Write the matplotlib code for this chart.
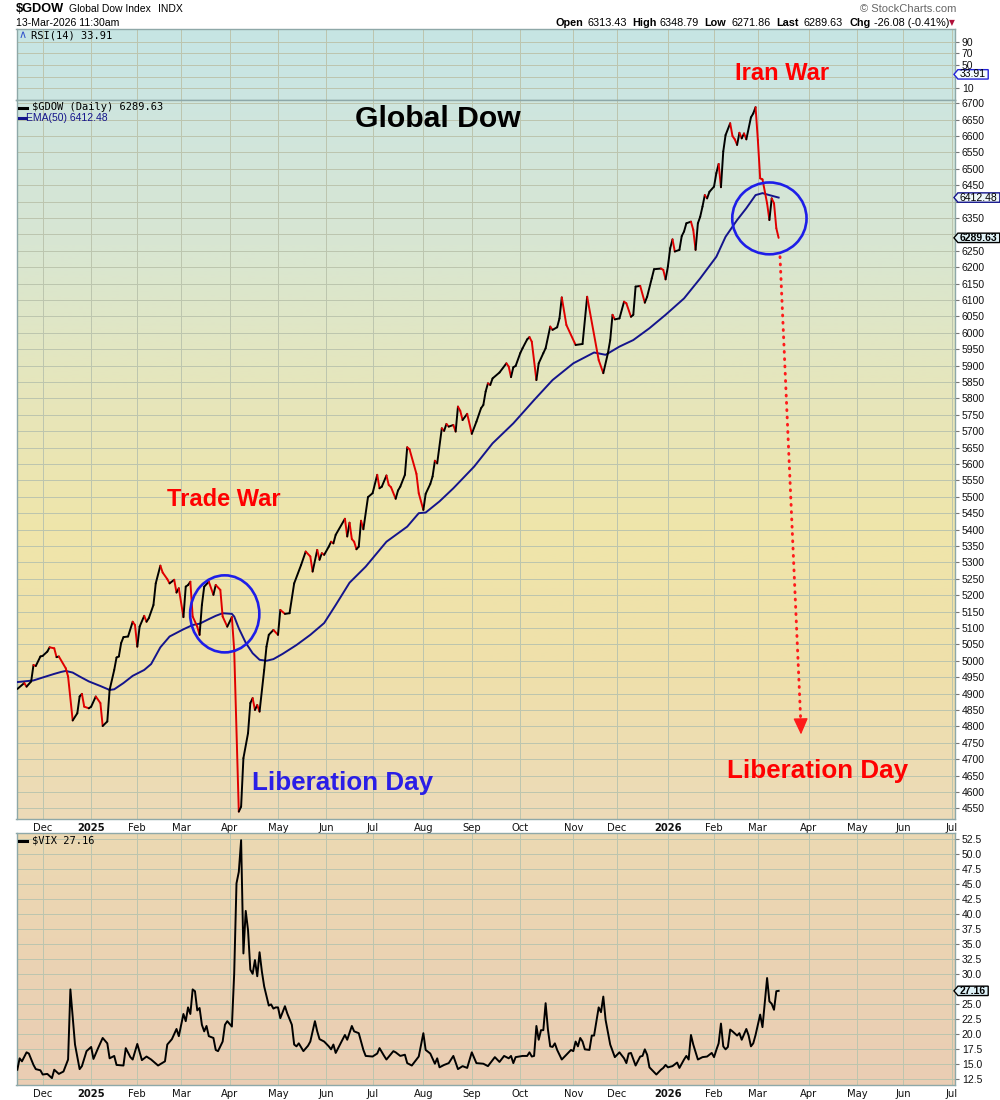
import numpy as np
import matplotlib
matplotlib.use("Agg")
import matplotlib.pyplot as plt
import matplotlib.transforms as mtrans
from matplotlib.collections import LineCollection
from matplotlib.colors import LinearSegmentedColormap
from matplotlib.patches import Ellipse
from matplotlib.path import Path
from matplotlib.lines import Line2D

# NYSE closed days in the window (x axis is in trading sessions)
holidays = ["2024-11-28", "2024-12-25", "2025-01-01", "2025-01-09", "2025-01-20",
            "2025-02-17", "2025-04-18", "2025-05-26", "2025-06-19", "2025-07-04",
            "2025-09-01", "2025-11-27", "2025-12-25", "2026-01-01", "2026-01-19",
            "2026-02-16", "2026-04-03", "2026-05-25", "2026-06-19", "2026-07-03"]

# $GDOW daily close
gdow = [
    ("2024-11-14", 4914), ("2024-11-19", 4932), ("2024-11-20", 4921), ("2024-11-22", 4937),
    ("2024-11-25", 4987), ("2024-11-26", 4984), ("2024-11-29", 5013), ("2024-12-02", 5015),
    ("2024-12-04", 5028), ("2024-12-05", 5041), ("2024-12-09", 5038), ("2024-12-10", 5011),
    ("2024-12-11", 5013), ("2024-12-16", 4977), ("2024-12-17", 4952), ("2024-12-19", 4818),
    ("2024-12-23", 4840), ("2024-12-24", 4891), ("2024-12-26", 4899), ("2024-12-27", 4860),
    ("2024-12-31", 4855), ("2025-01-02", 4860), ("2025-01-06", 4891), ("2025-01-08", 4871),
    ("2025-01-10", 4801), ("2025-01-14", 4815), ("2025-01-15", 4911), ("2025-01-17", 4972),
    ("2025-01-21", 5010), ("2025-01-22", 5013), ("2025-01-23", 5054), ("2025-01-24", 5072),
    ("2025-01-28", 5074), ("2025-01-30", 5119), ("2025-01-31", 5109), ("2025-02-03", 5043),
    ("2025-02-04", 5104), ("2025-02-06", 5137), ("2025-02-07", 5119), ("2025-02-10", 5130),
    ("2025-02-12", 5170), ("2025-02-13", 5236), ("2025-02-18", 5290), ("2025-02-19", 5269),
    ("2025-02-21", 5249), ("2025-02-24", 5236), ("2025-02-26", 5247), ("2025-02-27", 5208),
    ("2025-02-28", 5221), ("2025-03-04", 5133), ("2025-03-05", 5226), ("2025-03-06", 5231),
    ("2025-03-07", 5241), ("2025-03-10", 5135), ("2025-03-12", 5104), ("2025-03-13", 5079),
    ("2025-03-14", 5170), ("2025-03-17", 5226), ("2025-03-19", 5241), ("2025-03-21", 5201),
    ("2025-03-24", 5231), ("2025-03-26", 5216), ("2025-03-27", 5135), ("2025-03-31", 5104),
    ("2025-04-02", 5133), ("2025-04-03", 5033), ("2025-04-07", 4540), ("2025-04-08", 4555),
    ("2025-04-09", 4703), ("2025-04-11", 4779), ("2025-04-14", 4871), ("2025-04-15", 4886),
    ("2025-04-16", 4850), ("2025-04-17", 4865), ("2025-04-21", 4845), ("2025-04-23", 4972),
    ("2025-04-24", 5043), ("2025-04-25", 5079), ("2025-04-29", 5094), ("2025-05-01", 5079),
    ("2025-05-02", 5155), ("2025-05-06", 5143), ("2025-05-08", 5145), ("2025-05-12", 5236),
    ("2025-05-15", 5292), ("2025-05-19", 5333), ("2025-05-21", 5318), ("2025-05-22", 5272),
    ("2025-05-27", 5338), ("2025-05-28", 5308), ("2025-05-29", 5328), ("2025-05-30", 5323),
    ("2025-06-03", 5348), ("2025-06-04", 5363), ("2025-06-05", 5358), ("2025-06-06", 5384),
    ("2025-06-12", 5433), ("2025-06-13", 5379), ("2025-06-16", 5421), ("2025-06-17", 5371),
    ("2025-06-18", 5363), ("2025-06-20", 5340), ("2025-06-23", 5348), ("2025-06-24", 5427),
    ("2025-06-25", 5401), ("2025-06-27", 5499), ("2025-07-01", 5511), ("2025-07-03", 5567),
    ("2025-07-07", 5526), ("2025-07-08", 5531), ("2025-07-10", 5565), ("2025-07-11", 5536),
    ("2025-07-14", 5529), ("2025-07-16", 5494), ("2025-07-17", 5519), ("2025-07-18", 5531),
    ("2025-07-22", 5567), ("2025-07-23", 5651), ("2025-07-24", 5645), ("2025-07-29", 5570),
    ("2025-07-30", 5511), ("2025-08-01", 5460), ("2025-08-04", 5509), ("2025-08-06", 5539),
    ("2025-08-07", 5562), ("2025-08-08", 5610), ("2025-08-11", 5602), ("2025-08-13", 5709),
    ("2025-08-14", 5701), ("2025-08-15", 5722), ("2025-08-18", 5714), ("2025-08-20", 5719),
    ("2025-08-21", 5699), ("2025-08-22", 5775), ("2025-08-25", 5762), ("2025-08-26", 5734),
    ("2025-08-28", 5753), ("2025-09-02", 5692), ("2025-09-04", 5729), ("2025-09-08", 5770),
    ("2025-09-09", 5780), ("2025-09-10", 5821), ("2025-09-11", 5846), ("2025-09-12", 5841),
    ("2025-09-15", 5861), ("2025-09-18", 5879), ("2025-09-23", 5907), ("2025-09-24", 5897),
    ("2025-09-25", 5865), ("2025-09-26", 5895), ("2025-09-29", 5899), ("2025-10-01", 5938),
    ("2025-10-02", 5953), ("2025-10-06", 5980), ("2025-10-07", 5987), ("2025-10-08", 5973),
    ("2025-10-10", 5856), ("2025-10-13", 5907), ("2025-10-15", 5938), ("2025-10-16", 5953),
    ("2025-10-20", 6019), ("2025-10-21", 6009), ("2025-10-23", 6017), ("2025-10-24", 6044),
    ("2025-10-27", 6108), ("2025-10-29", 6024), ("2025-11-04", 5963), ("2025-11-07", 5966),
    ("2025-11-11", 6110), ("2025-11-18", 5917), ("2025-11-20", 5877), ("2025-11-24", 5938),
    ("2025-11-25", 5978), ("2025-11-26", 6055), ("2025-11-28", 6041), ("2025-12-02", 6044),
    ("2025-12-04", 6095), ("2025-12-05", 6090), ("2025-12-09", 6049), ("2025-12-10", 6055),
    ("2025-12-11", 6141), ("2025-12-15", 6143), ("2025-12-17", 6092), ("2025-12-18", 6110),
    ("2025-12-22", 6166), ("2025-12-23", 6194), ("2025-12-29", 6196), ("2025-12-30", 6192),
    ("2025-12-31", 6163), ("2026-01-02", 6202), ("2026-01-05", 6258), ("2026-01-06", 6285),
    ("2026-01-07", 6248), ("2026-01-09", 6253), ("2026-01-12", 6295), ("2026-01-13", 6309),
    ("2026-01-14", 6334), ("2026-01-16", 6339), ("2026-01-20", 6314), ("2026-01-21", 6253),
    ("2026-01-22", 6334), ("2026-01-23", 6354), ("2026-01-26", 6385), ("2026-01-27", 6420),
    ("2026-01-28", 6410), ("2026-01-29", 6430), ("2026-02-02", 6446), ("2026-02-03", 6487),
    ("2026-02-04", 6515), ("2026-02-05", 6444), ("2026-02-06", 6553), ("2026-02-09", 6603),
    ("2026-02-11", 6639), ("2026-02-12", 6600), ("2026-02-13", 6590), ("2026-02-17", 6573),
    ("2026-02-18", 6610), ("2026-02-19", 6593), ("2026-02-20", 6608), ("2026-02-23", 6590),
    ("2026-02-25", 6657), ("2026-02-26", 6669), ("2026-02-27", 6688), ("2026-03-02", 6588),
    ("2026-03-03", 6471), ("2026-03-04", 6468), ("2026-03-06", 6395), ("2026-03-09", 6344),
    ("2026-03-10", 6410), ("2026-03-11", 6395), ("2026-03-12", 6319), ("2026-03-13", 6289.63),
]

# EMA(50) of $GDOW
ema = [
    ("2024-11-14", 4935), ("2024-11-25", 4940), ("2024-12-02", 4949), ("2024-12-09", 4960),
    ("2024-12-12", 4966), ("2024-12-16", 4969), ("2024-12-19", 4964), ("2024-12-24", 4952),
    ("2024-12-31", 4937), ("2025-01-08", 4923), ("2025-01-15", 4911), ("2025-01-17", 4913),
    ("2025-01-24", 4932), ("2025-01-30", 4954), ("2025-02-06", 4972), ("2025-02-11", 4990),
    ("2025-02-18", 5041), ("2025-02-24", 5074), ("2025-03-04", 5096), ("2025-03-10", 5109),
    ("2025-03-13", 5113), ("2025-03-19", 5127), ("2025-03-24", 5137), ("2025-03-27", 5145),
    ("2025-04-02", 5143), ("2025-04-03", 5135), ("2025-04-07", 5099), ("2025-04-10", 5055),
    ("2025-04-15", 5023), ("2025-04-21", 5003), ("2025-04-24", 5000), ("2025-04-29", 5005),
    ("2025-05-05", 5021), ("2025-05-13", 5048), ("2025-05-21", 5079), ("2025-05-30", 5115),
    ("2025-06-06", 5170), ("2025-06-16", 5238), ("2025-06-26", 5287), ("2025-07-10", 5363),
    ("2025-07-23", 5409), ("2025-07-30", 5450), ("2025-08-04", 5452), ("2025-08-12", 5486),
    ("2025-08-20", 5526), ("2025-09-03", 5592), ("2025-09-15", 5663), ("2025-09-26", 5724),
    ("2025-10-09", 5795), ("2025-10-21", 5856), ("2025-11-03", 5907), ("2025-11-14", 5940),
    ("2025-11-21", 5933), ("2025-12-02", 5958), ("2025-12-10", 5978), ("2025-12-19", 6014),
    ("2025-12-31", 6055), ("2026-01-13", 6105), ("2026-01-23", 6166), ("2026-02-03", 6232),
    ("2026-02-09", 6293), ("2026-02-17", 6344), ("2026-02-23", 6380), ("2026-02-27", 6420),
    ("2026-03-04", 6426), ("2026-03-09", 6420), ("2026-03-13", 6412.48),
]

# $VIX daily close
vix = [
    ("2024-11-14", 14.0), ("2024-11-15", 15.9), ("2024-11-18", 15.4), ("2024-11-20", 16.9),
    ("2024-11-21", 16.7), ("2024-11-25", 14.8), ("2024-11-26", 14.1), ("2024-11-29", 13.9),
    ("2024-12-02", 13.2), ("2024-12-04", 13.3), ("2024-12-06", 12.6), ("2024-12-09", 14.0),
    ("2024-12-11", 13.3), ("2024-12-13", 13.7), ("2024-12-17", 15.7), ("2024-12-18", 27.4),
    ("2024-12-20", 18.2), ("2024-12-24", 14.1), ("2024-12-26", 14.6), ("2024-12-30", 17.1),
    ("2025-01-02", 17.8), ("2025-01-03", 15.8), ("2025-01-07", 17.6), ("2025-01-10", 19.3),
    ("2025-01-14", 18.4), ("2025-01-15", 15.9), ("2025-01-17", 16.3), ("2025-01-21", 14.8),
    ("2025-01-24", 14.7), ("2025-01-27", 17.6), ("2025-01-29", 16.1), ("2025-01-30", 15.7),
    ("2025-02-03", 18.3), ("2025-02-05", 15.6), ("2025-02-07", 16.2), ("2025-02-11", 15.7),
    ("2025-02-14", 14.7), ("2025-02-20", 15.4), ("2025-02-21", 18.2), ("2025-02-25", 19.1),
    ("2025-02-27", 20.8), ("2025-02-28", 19.6), ("2025-03-04", 23.3), ("2025-03-05", 22.1),
    ("2025-03-06", 24.4), ("2025-03-07", 23.3), ("2025-03-10", 27.4), ("2025-03-11", 27.1),
    ("2025-03-12", 23.9), ("2025-03-13", 24.3), ("2025-03-14", 21.5), ("2025-03-17", 20.4),
    ("2025-03-18", 21.3), ("2025-03-19", 19.6), ("2025-03-21", 19.3), ("2025-03-24", 17.3),
    ("2025-03-25", 17.1), ("2025-03-27", 18.7), ("2025-03-28", 21.5), ("2025-03-31", 22.1),
    ("2025-04-02", 21.2), ("2025-04-03", 30.0), ("2025-04-04", 45.1), ("2025-04-07", 47.0),
    ("2025-04-08", 52.3), ("2025-04-09", 33.4), ("2025-04-10", 40.5), ("2025-04-11", 37.3),
    ("2025-04-14", 30.7), ("2025-04-15", 30.0), ("2025-04-16", 32.3), ("2025-04-17", 29.6),
    ("2025-04-21", 33.6), ("2025-04-22", 30.4), ("2025-04-23", 27.9), ("2025-04-25", 24.7),
    ("2025-04-28", 24.9), ("2025-04-29", 24.2), ("2025-04-30", 24.4), ("2025-05-01", 24.4),
    ("2025-05-02", 22.6), ("2025-05-06", 24.6), ("2025-05-07", 23.4), ("2025-05-09", 21.5),
    ("2025-05-12", 18.2), ("2025-05-13", 17.9), ("2025-05-14", 18.4), ("2025-05-16", 17.1),
    ("2025-05-20", 18.0), ("2025-05-21", 18.7), ("2025-05-22", 20.4), ("2025-05-23", 22.1),
    ("2025-05-27", 20.4), ("2025-05-28", 19.1), ("2025-05-30", 18.7), ("2025-06-03", 17.9),
    ("2025-06-04", 17.4), ("2025-06-05", 18.2), ("2025-06-06", 16.8), ("2025-06-12", 19.8),
    ("2025-06-13", 19.0), ("2025-06-17", 21.3), ("2025-06-18", 20.4), ("2025-06-23", 20.1),
    ("2025-06-25", 17.3), ("2025-06-26", 16.3), ("2025-07-01", 16.2), ("2025-07-03", 16.7),
    ("2025-07-07", 17.6), ("2025-07-09", 16.3), ("2025-07-10", 15.7), ("2025-07-15", 17.1),
    ("2025-07-16", 16.9), ("2025-07-18", 16.3), ("2025-07-22", 16.5), ("2025-07-23", 15.1),
    ("2025-07-25", 14.7), ("2025-07-29", 15.7), ("2025-07-30", 16.2), ("2025-08-01", 20.1),
    ("2025-08-04", 17.3), ("2025-08-06", 16.7), ("2025-08-08", 15.0), ("2025-08-11", 15.9),
    ("2025-08-12", 14.4), ("2025-08-14", 14.8), ("2025-08-18", 15.1), ("2025-08-20", 16.3),
    ("2025-08-22", 14.1), ("2025-08-26", 14.6), ("2025-08-28", 14.3), ("2025-09-02", 16.9),
    ("2025-09-04", 15.1), ("2025-09-09", 15.0), ("2025-09-11", 14.6), ("2025-09-12", 15.1),
    ("2025-09-16", 16.1), ("2025-09-18", 15.3), ("2025-09-22", 16.3), ("2025-09-24", 15.9),
    ("2025-09-25", 16.3), ("2025-09-26", 15.1), ("2025-09-29", 16.1), ("2025-10-02", 16.3),
    ("2025-10-06", 16.3), ("2025-10-07", 16.9), ("2025-10-08", 16.2), ("2025-10-09", 16.3),
    ("2025-10-10", 21.3), ("2025-10-13", 19.0), ("2025-10-14", 20.6), ("2025-10-15", 20.6),
    ("2025-10-16", 25.1), ("2025-10-17", 20.7), ("2025-10-20", 17.9), ("2025-10-21", 17.8),
    ("2025-10-22", 18.4), ("2025-10-23", 17.3), ("2025-10-27", 15.7), ("2025-10-29", 16.5),
    ("2025-10-31", 17.3), ("2025-11-03", 17.1), ("2025-11-04", 18.7), ("2025-11-05", 17.9),
    ("2025-11-06", 19.3), ("2025-11-07", 18.7), ("2025-11-10", 17.4), ("2025-11-12", 17.3),
    ("2025-11-13", 19.7), ("2025-11-14", 19.7), ("2025-11-18", 24.4), ("2025-11-19", 23.6),
    ("2025-11-20", 26.2), ("2025-11-21", 22.3), ("2025-11-25", 18.2), ("2025-11-28", 16.1),
    ("2025-12-02", 16.9), ("2025-12-04", 15.9), ("2025-12-05", 15.1), ("2025-12-08", 16.7),
    ("2025-12-09", 16.8), ("2025-12-11", 14.7), ("2025-12-15", 16.2), ("2025-12-16", 16.3),
    ("2025-12-17", 17.4), ("2025-12-18", 16.5), ("2025-12-19", 14.4), ("2025-12-23", 13.6),
    ("2025-12-24", 13.2), ("2025-12-29", 14.0), ("2025-12-30", 14.3), ("2025-12-31", 14.8),
    ("2026-01-02", 14.4), ("2026-01-06", 14.6), ("2026-01-08", 15.2), ("2026-01-09", 14.3),
    ("2026-01-13", 15.7), ("2026-01-14", 16.3), ("2026-01-15", 15.7), ("2026-01-16", 19.8),
    ("2026-01-20", 18.2), ("2026-01-22", 15.7), ("2026-01-26", 16.1), ("2026-01-28", 16.2),
    ("2026-01-30", 16.8), ("2026-02-02", 16.1), ("2026-02-03", 17.3), ("2026-02-04", 18.4),
    ("2026-02-05", 21.7), ("2026-02-06", 17.9), ("2026-02-09", 17.4), ("2026-02-10", 17.8),
    ("2026-02-11", 20.7), ("2026-02-12", 20.4), ("2026-02-17", 19.7), ("2026-02-18", 20.1),
    ("2026-02-19", 19.0), ("2026-02-23", 20.8), ("2026-02-24", 19.7), ("2026-02-25", 17.9),
    ("2026-02-26", 18.4), ("2026-02-27", 19.8), ("2026-03-03", 23.2), ("2026-03-04", 21.1),
    ("2026-03-06", 29.3), ("2026-03-09", 25.4), ("2026-03-10", 25.0), ("2026-03-11", 24.0),
    ("2026-03-12", 27.1), ("2026-03-13", 27.16),
]

month_labels = ["Dec", "2025", "Feb", "Mar", "Apr", "May", "Jun", "Jul", "Aug", "Sep",
                "Oct", "Nov", "Dec", "2026", "Feb", "Mar", "Apr", "May", "Jun", "Jul"]
price_ticks = list(range(4550, 6701, 50))
vix_ticks = [12.5, 15.0, 17.5, 20.0, 22.5, 25.0, 27.5, 30.0, 32.5, 35.0, 37.5, 40.0,
             42.5, 45.0, 47.5, 50.0, 52.5]
rsi_ticks = [10, 30, 50, 70, 90]
# tick labels hidden under the last-value tags
hidden_price = [6300, 6400]
hidden_vix = [27.5]
hidden_rsi = [30]
quote = [("Open", "6313.43"), ("High", "6348.79"), ("Low", "6271.86"),
         ("Last", "6289.63"), ("Chg", "-26.08 (-0.41%)")]

BASE = np.datetime64("2024-12-02")


def session(dates):
    d = np.array(dates, dtype="datetime64[D]")
    return np.busday_count(BASE, d, holidays=holidays)


months = np.arange("2024-12", "2026-08", dtype="datetime64[M]").astype("datetime64[D]")
tick_x = session(np.busday_offset(months, 0, roll="forward", holidays=holidays))
XL = (-11.36, 395.67)

W, H = 1000.0, 1100.0
L, R = 16.5, 955.5
fig = plt.figure(figsize=(10, 11), dpi=100)


def fx(x, y):
    return x / W, 1 - y / H


def panel(top, bottom):
    return fig.add_axes([L / W, 1 - bottom / H, (R - L) / W, (bottom - top) / H])


def shade(a, colors):
    cmap = LinearSegmentedColormap.from_list("bg", colors)
    a.imshow(np.linspace(0, 1, 256)[:, None], cmap=cmap, aspect="auto",
             extent=(0, 1, 0, 1), origin="upper", transform=a.transAxes,
             zorder=0, interpolation="bilinear")


def tag_shape(x0, y0, width, height, mutation_size):
    left = x0 - 0.2 * mutation_size
    right = x0 + width + 0.2 * mutation_size
    bottom = y0 + 0.03 * height
    top = y0 + 0.97 * height
    tip = 0.42 * (top - bottom)
    ym = 0.5 * (top + bottom)
    return Path([(left, bottom), (right, bottom), (right, top), (left, top),
                 (left - tip, ym), (left, bottom)], closed=True)


def tag(a, value, text, edge, face, bold=False):
    tr = mtrans.blended_transform_factory(a.transAxes, a.transData)
    a.text(1.0 + 4.5 / (R - L), value, text, transform=tr, ha="left", va="center",
           fontsize=7.5, family="Liberation Sans", fontweight="bold" if bold else "normal",
           clip_on=False, zorder=10,
           bbox=dict(boxstyle=tag_shape, facecolor=face, edgecolor=edge, linewidth=1.0))


def fmt_labels(ticks, hidden, f):
    return ["" if t in hidden else f(t) for t in ticks]


ax_rsi = panel(28.5, 100)
ax = panel(100, 818.5)
ax_vix = panel(833.3, 1085)

shade(ax_rsi, ["#c6e5e4", "#cce6e1"])
shade(ax, ["#cee5df", "#d8e6d2", "#e6e6bc", "#efe5aa", "#efe0ab", "#ecdab8"])
shade(ax_vix, ["#ecd9b2", "#eacdb4"])

for a in (ax_rsi, ax, ax_vix):
    a.set_xlim(XL)
    a.set_xticks(tick_x)
    a.grid(True, color="#bcc5ae", linewidth=0.7)
    a.set_axisbelow(True)
    for s in a.spines.values():
        s.set_color("#8ea8a8")
        s.set_linewidth(1.0)
    a.tick_params(axis="y", left=False, right=True, labelleft=False, labelright=True,
                  length=3, width=0.8, color="#777777", labelcolor="#111111",
                  labelsize=7.5, pad=1.5, labelfontfamily="Liberation Sans")

# RSI panel (its line is not drawn in the reference)
ax_rsi.set_ylim(-10.1, 112.6)
ax_rsi.set_yticks(rsi_ticks)
ax_rsi.set_yticklabels(fmt_labels(rsi_ticks, hidden_rsi, str))
ax_rsi.tick_params(axis="x", length=0, labelbottom=False)
tag(ax_rsi, 33.91, "33.91", "#2323d8", "#f4fbfd")

# main price panel
ax.set_ylim(4519, 6710)
ax.set_yticks(price_ticks)
ax.set_yticklabels(fmt_labels(price_ticks, hidden_price, str))
gx = session([d for d, _ in gdow])
gy = np.array([v for _, v in gdow], dtype=float)
pts = np.column_stack([gx, gy])
segs = np.stack([pts[:-1], pts[1:]], axis=1)
cols = np.where(np.diff(gy) < 0, "#e00000", "#000000")
ax.add_collection(LineCollection(segs, colors=cols, linewidths=1.4, capstyle="round",
                                 joinstyle="round", zorder=4))
ex = session([d for d, _ in ema])
ey = [v for _, v in ema]
ax.plot(ex, ey, color="#14148c", lw=1.4, zorder=3, solid_joinstyle="round")
tag(ax, 6412.48, "6412.48", "#14148c", "#eef7f8")
tag(ax, 6289.63, "6289.63", "#000000", "#e2f4f8", bold=True)

# annotations
ax.add_patch(Ellipse((session("2025-03-27") + 0.9, 5143), 30, 235, fill=False,
                     edgecolor="#1e1ee8", lw=1.9, zorder=6))
ax.add_patch(Ellipse((session("2026-03-09"), 6349), 32.2, 219, fill=False,
                     edgecolor="#1e1ee8", lw=1.9, zorder=6))
a_start = (session("2026-03-16") - 0.4, 6232)
a_base = (session("2026-03-27") - 0.45, 4822)
a_tip = (session("2026-03-27") - 0.3, 4775)
ax.plot([a_start[0], a_base[0]], [a_start[1], a_base[1]], color="#ff1a1a", lw=2.1,
        linestyle=(0, (0.3, 2.2)), dash_capstyle="round", zorder=6)
ax.annotate("", xy=a_tip, xytext=a_base,
            arrowprops=dict(arrowstyle="-|>,head_length=1.0,head_width=0.45",
                            color="#ff1a1a", lw=1.0, shrinkA=0, shrinkB=0), zorder=6)

# VIX panel
ax_vix.set_ylim(11.45, 53.45)
ax_vix.set_yticks(vix_ticks)
ax_vix.set_yticklabels(fmt_labels(vix_ticks, hidden_vix, lambda v: f"{v:.1f}"))
vx = session([d for d, _ in vix])
vy = [v for _, v in vix]
ax_vix.plot(vx, vy, color="#000000", lw=1.4, zorder=4, solid_joinstyle="round")
tag(ax_vix, 27.16, "27.16", "#000000", "#def2f8", bold=True)

for a in (ax, ax_vix):
    a.set_xticklabels(month_labels)
    a.tick_params(axis="x", length=0, pad=3, labelsize=7.2, labelcolor="#111111")
    for t in a.get_xticklabels():
        if t.get_text().isdigit():
            t.set_fontweight("bold")


# legends inside panels
def swatch(x0, x1, y, color):
    fig.add_artist(Line2D([x0 / W, x1 / W], [1 - y / H, 1 - y / H], color=color, lw=2.2,
                          transform=fig.transFigure))


fig.text(*fx(19, 35.5), "\u2227", color="#3355cc", fontsize=8, va="center", ha="left")
fig.text(*fx(31, 35.5), "RSI(14) 33.91", family="DejaVu Sans Mono", fontsize=7.5, va="center")
swatch(19, 27, 107.5, "#000000")
fig.text(*fx(31.5, 107.5), "$GDOW (Daily) 6289.63", family="DejaVu Sans Mono", fontsize=7.5,
         va="center")
swatch(19, 26, 118, "#14148c")
fig.text(*fx(25.5, 118), "EMA(50) 6412.48", family="Liberation Sans", fontsize=7.5,
         color="#14148c", va="center")
swatch(19, 27, 840.5, "#000000")
fig.text(*fx(31.5, 840.5), "$VIX 27.16", family="DejaVu Sans Mono", fontsize=7.5, va="center")

# header
fig.text(*fx(16, 9.5), "$GDOW", family="Liberation Sans", fontweight="bold", fontsize=9.2,
         va="center")
fig.text(*fx(69, 9.5), "Global Dow Index", family="Liberation Sans", fontsize=7.5, va="center")
fig.text(*fx(158, 9.5), "INDX", family="Liberation Sans", fontsize=7.5, va="center")
fig.text(*fx(16, 23), "13-Mar-2026 11:30am", family="Liberation Sans", fontsize=7.6,
         va="center")
fig.text(*fx(956, 9), "\u00a9 StockCharts.com", family="Liberation Sans", fontsize=8,
         color="#666666", va="center", ha="right")
qx = [556, 632.7, 704.3, 776.7, 849]
vxs = [587.3, 659.3, 731.7, 803.3, 874]
for (lab, val), x1, x2 in zip(quote, qx, vxs):
    fig.text(*fx(x1, 23), lab, family="Liberation Sans", fontweight="bold", fontsize=7.8,
             va="center")
    fig.text(*fx(x2, 23), val, family="Liberation Sans", fontsize=7.8, va="center")
fig.text(*fx(952, 23), "\u25bc", color="#b0103a", fontsize=5.5, va="center", ha="center")

# chart titles / callouts
big = dict(family="Liberation Sans", fontweight="bold", ha="center", va="center")
fig.text(*fx(438, 119), "Global Dow", color="#000000", fontsize=21.7, **big)
fig.text(*fx(782, 74), "Iran War", color="#ff0000", fontsize=17, **big)
fig.text(*fx(224, 500), "Trade War", color="#ff0000", fontsize=17, **big)
fig.text(*fx(343, 783), "Liberation Day", color="#2a1ee6", fontsize=18.7, **big)
fig.text(*fx(818, 771), "Liberation Day", color="#ff0000", fontsize=18.7, **big)

fig.savefig("out.png", dpi=100, facecolor="white")
